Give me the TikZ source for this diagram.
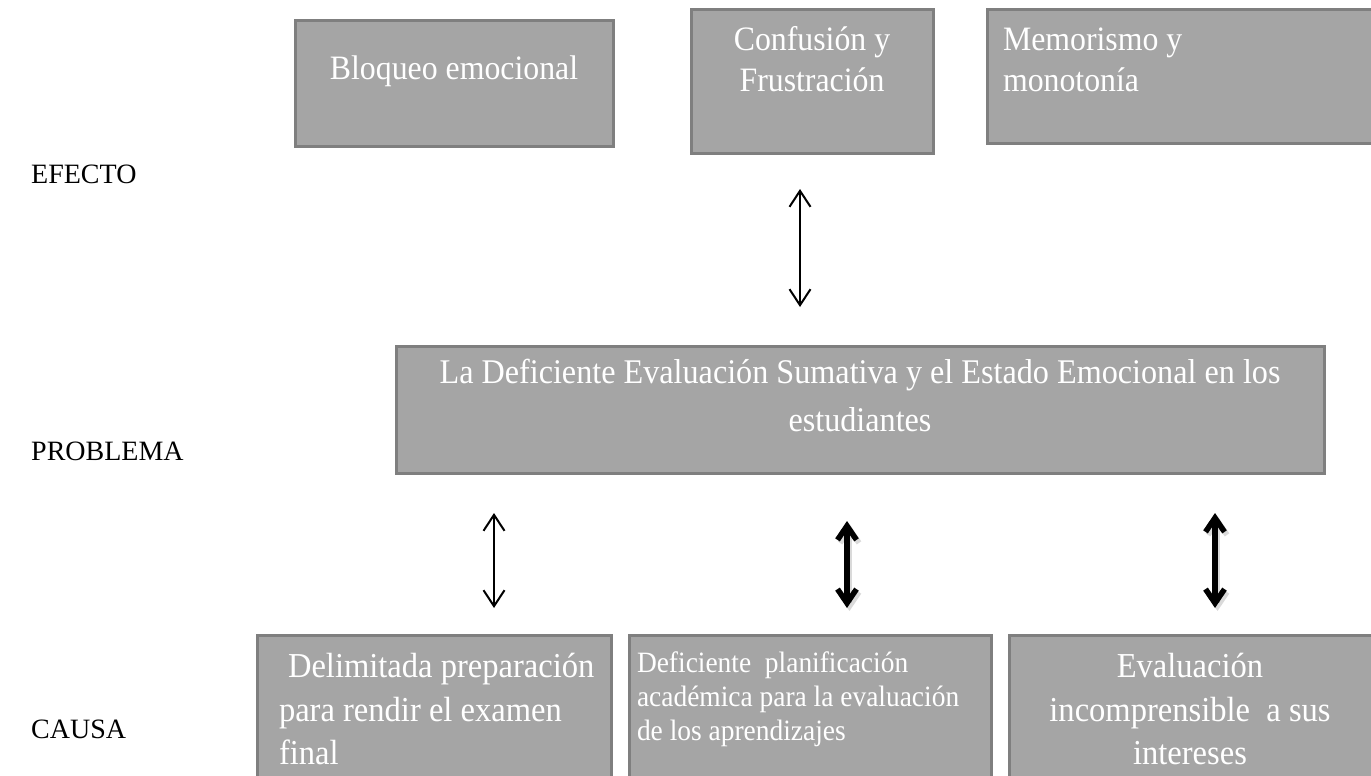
\documentclass[tikz,border=0pt]{standalone}
\usepackage{fontspec}
\setmainfont{Liberation Serif}
\newfontfamily\bxfont[FakeStretch=0.93]{Liberation Serif}
\usetikzlibrary{arrows.meta}
\definecolor{boxfill}{RGB}{165,165,165}
\definecolor{boxline}{RGB}{127,127,127}
\definecolor{shade}{RGB}{150,150,150}
\tikzset{
  box/.style={draw=boxline, line width=3pt, fill=boxfill, inner sep=0pt, outer sep=0pt, anchor=north west},
  txt/.style={text=white, inner sep=0pt, outer sep=0pt},
  lab/.style={text=black, inner sep=0pt, anchor=base west, font=\fontsize{28}{34}\selectfont},
  thinarrow/.style={line width=2pt, {Straight Barb[length=16pt,width=21pt]}-{Straight Barb[length=16pt,width=21pt]}},
  thickarrow/.style={line width=5.5pt, {Straight Barb[length=14pt,width=19pt]}-{Straight Barb[length=14pt,width=19pt]}},
  arrowshadow/.style={line width=5.5pt, draw=shade, opacity=0.35, {Straight Barb[length=14pt,width=19pt]}-{Straight Barb[length=14pt,width=19pt]}}
}
\begin{document}
\begin{tikzpicture}[x=1pt,y=-1pt]
\useasboundingbox (0,0) rectangle (1371,776);
% effect boxes
\node[box, minimum width=318pt, minimum height=125pt] (bloq) at (295,21) {};
\node[box, minimum width=242pt, minimum height=143pt] (conf) at (691,10) {};
\node[box, minimum width=420pt, minimum height=133pt] (memo) at (987,10) {};
% problem box
\node[box, minimum width=928pt, minimum height=127pt] (prob) at (396,346) {};
% cause boxes
\node[box, minimum width=354pt, minimum height=160pt] (delim) at (257,635) {};
\node[box, minimum width=362pt, minimum height=160pt] (plan) at (629,635) {};
\node[box, minimum width=400pt, minimum height=160pt] (incom) at (1009,635) {};
% texts
\node[txt, anchor=north, align=center, font=\bxfont\fontsize{34.2}{41}\selectfont] (tbloq) at (454,50.3) {\strut Bloqueo emocional};
\node[txt, anchor=north, align=center, font=\bxfont\fontsize{34.2}{41}\selectfont] (tconf) at (812,22.3) {\strut Confusión y\\Frustración};
\node[txt, anchor=north west, align=left, font=\bxfont\fontsize{34.2}{41}\selectfont] (tmemo) at (1003,22.3) {\strut Memorismo y\\monotonía};
\node[txt, anchor=north, align=center, font=\bxfont\fontsize{34.6}{48}\selectfont] (tprob) at (860,349.4) {\strut La Deficiente Evaluación Sumativa y el Estado Emocional en los\\estudiantes};
\node[txt, anchor=north west, align=left, font=\bxfont\fontsize{35}{43.5}\selectfont] (tdelim) at (279,647.5) {\strut\hspace{9pt}Delimitada preparación\\para rendir el examen\\final};
\node[txt, anchor=north west, align=left, font=\bxfont\fontsize{29.5}{34}\selectfont] (tplan) at (637,648.2) {\strut Deficiente\ \ planificación\\académica para la evaluación\\de los aprendizajes};
\node[txt, anchor=north, align=center, font=\bxfont\fontsize{35}{43.5}\selectfont] (tincom) at (1190,647.5) {\strut Evaluación\\incomprensible\ \ a sus\\intereses};
% labels
\node[lab] (efecto) at (31,183) {EFECTO};
\node[lab] (problema) at (31,460) {PROBLEMA};
\node[lab] (causa) at (31,738) {CAUSA};
% arrow end points
\coordinate (m1) at (800,189);
\coordinate (m2) at (800,307);
\coordinate (l1) at (494,513);
\coordinate (l2) at (494,608);
\coordinate (c1) at (847,521);
\coordinate (c2) at (847,608);
\coordinate (r1) at (1215,513);
\coordinate (r2) at (1215,608);
\coordinate (c1s) at (849.5,524);
\coordinate (c2s) at (849.5,611);
\coordinate (r1s) at (1217.5,516);
\coordinate (r2s) at (1217.5,611);
% arrows
\draw[thinarrow] (m1) -- (m2);
\draw[thinarrow] (l1) -- (l2);
\draw[arrowshadow] (c1s) -- (c2s);
\draw[arrowshadow] (r1s) -- (r2s);
\draw[thickarrow] (c1) -- (c2);
\draw[thickarrow] (r1) -- (r2);
\end{tikzpicture}
\end{document}
